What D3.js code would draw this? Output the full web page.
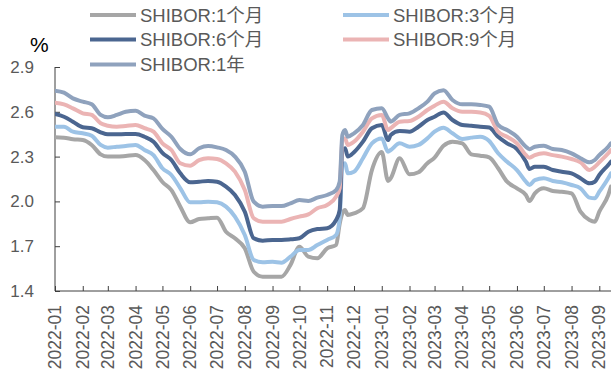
<!DOCTYPE html>
<html>
<head>
<meta charset="utf-8">
<script src="https://cdn.jsdelivr.net/npm/d3@7/dist/d3.min.js"></script>
<style>
  html, body { margin: 0; padding: 0; background: #fff; }
  svg { display: block; }
  text { font-family: "Liberation Sans", Arial, "Noto Sans CJK SC", sans-serif; }
</style>
</head>
<body>
<svg id="chart" width="611" height="374"></svg>
<script>
// Observation dates (shared by all series)
const dates = [
  "2022-01-01","2022-01-11","2022-01-21","2022-02-01","2022-02-11","2022-02-21",
  "2022-03-01","2022-03-11","2022-03-21","2022-04-01","2022-04-11","2022-04-21",
  "2022-05-01","2022-05-11","2022-05-21","2022-06-01","2022-06-11","2022-06-21",
  "2022-07-01","2022-07-11","2022-07-21","2022-08-01","2022-08-11","2022-08-21",
  "2022-09-01","2022-09-11","2022-09-21","2022-10-01","2022-10-11","2022-10-21",
  "2022-11-01","2022-11-11","2022-11-15","2022-11-18","2022-11-21","2022-11-24",
  "2022-12-01","2022-12-11","2022-12-21","2023-01-01","2023-01-08","2023-01-11",
  "2023-01-21","2023-02-01","2023-02-11","2023-02-21","2023-03-01","2023-03-11",
  "2023-03-21","2023-04-01","2023-04-11","2023-04-21","2023-05-01","2023-05-11",
  "2023-05-21","2023-06-01","2023-06-11","2023-06-15","2023-06-21","2023-07-01",
  "2023-07-11","2023-07-21","2023-08-01","2023-08-11","2023-08-21","2023-08-27",
  "2023-09-01","2023-09-11","2023-09-14"
];

// SHIBOR rates, %
const shibor1M = [
  2.429,2.427,2.416,2.411,2.378,2.315, 2.300,2.300,2.304,2.310,2.277,2.210,
  2.130,2.076,1.965,1.860,1.882,1.887, 1.891,1.797,1.753,1.686,1.529,1.496,
  1.496,1.496,1.574,1.697,1.630,1.619, 1.686,1.708,1.850,1.920,1.942,1.909,
  1.920,1.954,2.210,2.330,2.137,2.155, 2.289,2.181,2.195,2.255,2.293,2.373,
  2.400,2.389,2.315,2.306,2.295,2.222, 2.132,2.088,2.043,2.003,2.054,2.088,
  2.070,2.065,2.054,1.931,1.875,1.864, 1.931,2.043,2.099
];
const shibor3M = [
  2.500,2.500,2.467,2.456,2.440,2.378, 2.360,2.366,2.371,2.378,2.344,2.310,
  2.222,2.177,2.088,1.994,1.994,1.998, 1.994,1.965,1.898,1.775,1.608,1.592,
  1.596,1.590,1.630,1.675,1.675,1.708, 1.742,1.775,1.887,2.244,2.255,2.188,
  2.199,2.289,2.389,2.422,2.333,2.344, 2.389,2.366,2.378,2.422,2.467,2.494,
  2.456,2.418,2.427,2.433,2.405,2.322, 2.266,2.210,2.132,2.110,2.143,2.155,
  2.137,2.128,2.110,2.088,2.025,2.021, 2.065,2.155,2.188
];
const shibor6M = [
  2.585,2.567,2.534,2.496,2.490,2.463, 2.449,2.449,2.451,2.451,2.433,2.400,
  2.325,2.277,2.188,2.128,2.132,2.137, 2.132,2.099,2.043,1.931,1.753,1.737,
  1.742,1.742,1.746,1.753,1.797,1.815, 1.820,1.875,1.942,2.344,2.356,2.300,
  2.329,2.400,2.490,2.512,2.411,2.445, 2.471,2.467,2.500,2.545,2.567,2.596,
  2.545,2.512,2.507,2.500,2.495,2.433, 2.389,2.351,2.266,2.217,2.232,2.232,
  2.210,2.199,2.188,2.155,2.121,2.132, 2.177,2.244,2.266
];
const shibor9M = [
  2.661,2.650,2.623,2.590,2.579,2.523, 2.507,2.500,2.505,2.512,2.490,2.467,
  2.389,2.344,2.255,2.239,2.277,2.289, 2.284,2.255,2.199,2.076,1.887,1.864,
  1.864,1.864,1.882,1.898,1.913,1.954, 1.976,2.032,2.088,2.411,2.422,2.378,
  2.400,2.467,2.556,2.579,2.478,2.490, 2.534,2.538,2.567,2.612,2.641,2.668,
  2.623,2.600,2.600,2.596,2.573,2.467, 2.433,2.389,2.310,2.293,2.310,2.322,
  2.310,2.300,2.284,2.262,2.210,2.232, 2.262,2.322,2.344
];
const shibor1Y = [
  2.741,2.728,2.690,2.668,2.650,2.579, 2.563,2.579,2.600,2.607,2.574,2.556,
  2.485,2.433,2.351,2.315,2.356,2.371, 2.362,2.344,2.300,2.199,1.998,1.965,
  1.969,1.969,1.987,2.009,2.003,2.025, 2.043,2.076,2.132,2.445,2.478,2.433,
  2.456,2.512,2.612,2.623,2.556,2.534, 2.579,2.590,2.623,2.668,2.723,2.745,
  2.679,2.650,2.650,2.646,2.634,2.512, 2.478,2.433,2.366,2.350,2.366,2.373,
  2.351,2.344,2.322,2.289,2.262,2.277, 2.310,2.366,2.389
];

const seriesNames = ["SHIBOR:1个月","SHIBOR:3个月","SHIBOR:6个月","SHIBOR:9个月","SHIBOR:1年"];
const seriesColors = ["#a6a6a6","#9dc3e6","#4b6690","#ebb4b4","#8fa2bd"];
const yTicks = [1.4, 1.7, 2.0, 2.3, 2.6, 2.9];
const xTickMonths = [
  "2022-01","2022-02","2022-03","2022-04","2022-05","2022-06","2022-07",
  "2022-08","2022-09","2022-10","2022-11","2022-12","2023-01","2023-02",
  "2023-03","2023-04","2023-05","2023-06","2023-07","2023-08","2023-09"
];

const seriesValues = [shibor1M, shibor3M, shibor6M, shibor9M, shibor1Y];
const parse = d3.utcParse("%Y-%m-%d");
const parseMonth = d3.utcParse("%Y-%m");
const dateObjs = dates.map(parse);

const svg = d3.select("#chart");
const textColor = "#595959";
const axisColor = "#3f3f3f";

const x = d3.scaleUtc()
  .domain([parse("2022-01-01"), parse("2023-09-01")])
  .range([55, 599.3]);
const y = d3.scaleLinear().domain([1.4, 2.9]).range([291, 67]);

// Clip so the series stop at the page edge
svg.append("defs").append("clipPath").attr("id", "plotClip")
  .append("rect").attr("x", 55).attr("y", 0).attr("width", 556).attr("height", 300);

// Y axis
const yAxis = svg.append("g").attr("transform", "translate(55,0)")
  .call(d3.axisRight(y).tickValues(yTicks).tickSize(5).tickFormat(() => ""));
yAxis.select(".domain").attr("d", `M0,${y(2.9)}V${y(1.4)}`).attr("stroke", axisColor).attr("stroke-width", 1);
yAxis.selectAll(".tick line").attr("stroke", axisColor);

svg.append("g").selectAll("text").data(yTicks).join("text")
  .attr("x", 34).attr("y", d => y(d)).attr("dy", "0.35em")
  .attr("text-anchor", "end").attr("font-size", 17).attr("fill", textColor)
  .text(d => d.toFixed(1));

// X axis
const xTickDates = xTickMonths.map(parseMonth);
const xAxis = svg.append("g").attr("transform", `translate(0,${y(1.4)})`)
  .call(d3.axisTop(x).tickValues(xTickDates).tickSize(5).tickFormat(() => ""));
xAxis.select(".domain").attr("d", "M55,0H611").attr("stroke", axisColor).attr("stroke-width", 1);
xAxis.selectAll(".tick line").attr("stroke", axisColor);

svg.append("g").selectAll("text").data(xTickDates).join("text")
  .attr("transform", d => `translate(${x(d)},${y(1.4) + 14}) rotate(-90)`)
  .attr("dy", "0.35em").attr("text-anchor", "end")
  .attr("font-size", 17.5).attr("fill", textColor)
  .text(d => d3.utcFormat("%Y-%m")(d));

// Series lines
const line = d3.line()
  .x((d, i) => x(dateObjs[i]))
  .y(d => y(d))
  .curve(d3.curveMonotoneX);

svg.append("g").attr("clip-path", "url(#plotClip)")
  .selectAll("path").data(seriesValues).join("path")
  .attr("d", d => line(d))
  .attr("fill", "none")
  .attr("stroke", (d, i) => seriesColors[i])
  .attr("stroke-width", 4)
  .attr("stroke-linejoin", "round")
  .attr("stroke-linecap", "round");

// Unit label
svg.append("text").attr("x", 30).attr("y", 52)
  .attr("font-size", 21).attr("fill", "#000").text("%");

// Legend
const legendPos = [[90, 15], [343, 15], [90, 39.5], [343, 39.5], [90, 64.5]];
const legend = svg.append("g").selectAll("g").data(seriesNames).join("g")
  .attr("transform", (d, i) => `translate(${legendPos[i][0]},${legendPos[i][1]})`);
legend.append("line").attr("x1", 0).attr("x2", 46).attr("y1", 0).attr("y2", 0)
  .attr("stroke", (d, i) => seriesColors[i]).attr("stroke-width", 4);
legend.append("text").attr("x", 50).attr("y", 0).attr("dy", "0.36em")
  .attr("font-size", 18.5).attr("fill", textColor).text(d => d);
</script>
</body>
</html>
